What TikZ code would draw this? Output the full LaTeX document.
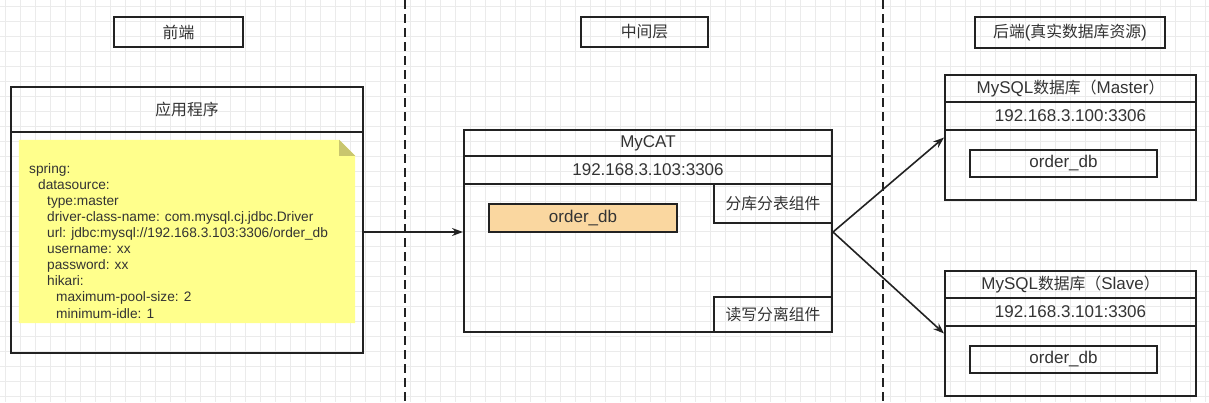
\documentclass[tikz,border=0pt]{standalone}
\usepackage{fontspec}
\setmainfont{Liberation Sans}
\newfontfamily\cjk{Noto Sans CJK SC}[Scale=0.93]
\newcommand\zh[1]{{\cjk #1}}
\usetikzlibrary{arrows.meta,calc,positioning}
\definecolor{linec}{HTML}{222222}
\definecolor{textc}{HTML}{333333}
\definecolor{gridc}{HTML}{EBEBEB}
\definecolor{notefill}{HTML}{FFFF8C}
\definecolor{notefold}{HTML}{C9C66E}
\definecolor{dbfill}{HTML}{FAD7A0}
\tikzset{
  box/.style={draw=linec, line width=2pt, inner sep=0pt, text=textc,
    font=\fontsize{17}{20}\selectfont},
  plain/.style={inner sep=0pt, text=textc},
  flow/.style={draw=linec, line width=1.6pt, -{Stealth[length=11pt,width=8pt]}},
  divider/.style={draw=linec, line width=2pt, dash pattern=on 9pt off 5pt},
}

\begin{document}
\begin{tikzpicture}[x=1pt,y=-1pt]
  \useasboundingbox (0,0) rectangle (1209,402);
  % background grid
  \foreach \gx in {5.5,20.5,...,1209} \draw[gridc, line width=1pt] (\gx,0) -- (\gx,402);
  \foreach \gy in {6.7,21.7,...,402} \draw[gridc, line width=1pt] (0,\gy) -- (1209,\gy);

  % column dividers
  \draw[divider] (405,0) -- (405,402);
  \draw[divider] (883,0) -- (883,402);

  % column headers
  \node[box, minimum width=129pt, minimum height=30pt] (front) at (178.5,32) {\zh{前端}};
  \node[box, minimum width=127pt, minimum height=30pt] (middle) at (644.5,32) {\zh{中间层}};
  \node[box, minimum width=190pt, minimum height=31pt] (back) at (1070,32.5) {\zh{后端}(\zh{真实数据库资源})};

  % application
  \node[box, minimum width=352pt, minimum height=266pt] (app) at (187,220) {};
  \node[box, minimum width=352pt, minimum height=45pt] (appTitle) at (187,109.5) {\zh{应用程序}};
  \node[plain, minimum width=336pt, minimum height=183pt] (note) at (187,231.5) {};
  \fill[notefill] (note.north west) -- ([xshift=-16pt]note.north east)
    -- ([yshift=-16pt]note.north east) -- (note.south east) -- (note.south west) -- cycle;
  \fill[notefold] ([xshift=-16pt]note.north east) -- ([yshift=-16pt]note.north east)
    -- ([xshift=-16pt,yshift=-16pt]note.north east) -- cycle;
  \node[plain, anchor=west, align=left, font=\fontsize{13.7}{16.1}\selectfont] (yaml) at (29,240.7)
    {spring:\\
     \hspace*{9pt}datasource:\\
     \hspace*{18pt}type:master\\
     \hspace*{18pt}driver-class-name: com.mysql.cj.jdbc.Driver\\
     \hspace*{18pt}url: jdbc:mysql://192.168.3.103:3306/order\_db\\
     \hspace*{18pt}username: xx\\
     \hspace*{18pt}password: xx\\
     \hspace*{18pt}hikari:\\
     \hspace*{27pt}maximum-pool-size: 2\\
     \hspace*{27pt}minimum-idle: 1};

  % MyCAT
  \node[box, minimum width=368pt, minimum height=202pt] (mycat) at (648,231) {};
  \node[box, minimum width=368pt, minimum height=26pt] (mycatTitle) at (648,143) {MyCAT};
  \node[box, minimum width=368pt, minimum height=28pt] (mycatIp) at (648,170) {192.168.3.103:3306};
  \node[box, fill=dbfill, minimum width=188pt, minimum height=28pt] (mycatDb) at (583,218) {order\_db};
  \node[box, minimum width=118pt, minimum height=39pt] (shard) at (773,203.5) {\zh{分库分表组件}};
  \node[box, minimum width=118pt, minimum height=35pt] (rwsplit) at (773,314.5) {\zh{读写分离组件}};

  % MySQL master
  \node[box, minimum width=251pt, minimum height=125pt] (master) at (1070.5,137.5) {};
  \node[box, minimum width=251pt, minimum height=27pt] (masterTitle) at (1070.5,88.5) {MySQL\zh{数据库（}Master\zh{）}};
  \node[box, minimum width=251pt, minimum height=28pt] (masterIp) at (1070.5,116) {192.168.3.100:3306};
  \node[box, minimum width=187pt, minimum height=27pt] (masterDb) at (1063.5,163.5) {order\_db};

  % MySQL slave
  \node[box, minimum width=251pt, minimum height=125pt] (slave) at (1070.5,333.5) {};
  \node[box, minimum width=251pt, minimum height=27pt] (slaveTitle) at (1070.5,284.5) {MySQL\zh{数据库（}Slave\zh{）}};
  \node[box, minimum width=251pt, minimum height=28pt] (slaveIp) at (1070.5,312) {192.168.3.101:3306};
  \node[box, minimum width=187pt, minimum height=27pt] (slaveDb) at (1063.5,359.5) {order\_db};

  % connections
  \draw[flow] ([yshift=-12pt]app.east) -- ([yshift=-1pt]mycat.west);
  \draw[flow] ([yshift=-1pt]mycat.east) -- (master.west);
  \draw[flow] ([yshift=-1pt]mycat.east) -- (slave.west);
\end{tikzpicture}
\end{document}
